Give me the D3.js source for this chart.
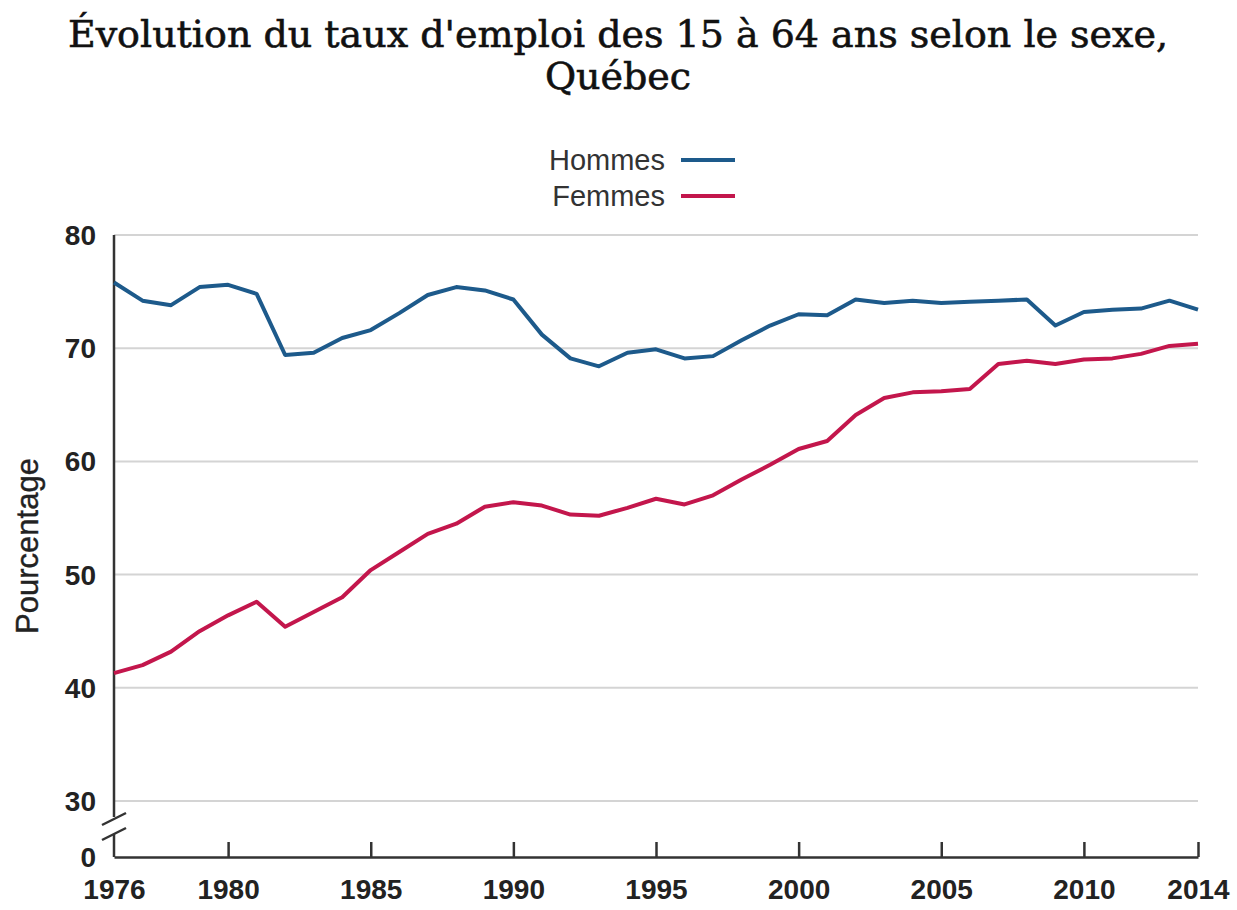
<!DOCTYPE html>
<html>
<head>
<meta charset="utf-8">
<script src="https://cdn.jsdelivr.net/npm/d3@7"></script>
<style>
  body { margin: 0; background: #fff; }
  svg { display: block; }
</style>
</head>
<body>
<svg width="1237" height="910"></svg>
<script>
const years = d3.range(1976, 2015);

const hommes = [
  75.8, 74.2, 73.8, 75.4, 75.6, 74.8, 69.4, 69.6, 70.9, 71.6,
  73.1, 74.7, 75.4, 75.1, 74.3, 71.2, 69.1, 68.4, 69.6, 69.9,
  69.1, 69.3, 70.7, 72.0, 73.0, 72.9, 74.3, 74.0, 74.2, 74.0,
  74.1, 74.2, 74.3, 72.0, 73.2, 73.4, 73.5, 74.2, 73.4
];

const femmes = [
  41.3, 42.0, 43.2, 45.0, 46.4, 47.6, 45.4, 46.7, 48.0, 50.4,
  52.0, 53.6, 54.5, 56.0, 56.4, 56.1, 55.3, 55.2, 55.9, 56.7,
  56.2, 57.0, 58.4, 59.7, 61.1, 61.8, 64.1, 65.6, 66.1, 66.2,
  66.4, 68.6, 68.9, 68.6, 69.0, 69.1, 69.5, 70.2, 70.4
];

const yTicks = [0, 30, 40, 50, 60, 70, 80];
const xTicks = [1976, 1980, 1985, 1990, 1995, 2000, 2005, 2010, 2014];

const series = [
  { name: 'Hommes', values: hommes, color: '#1d5a8b' },
  { name: 'Femmes', values: femmes, color: '#c3164c' }
];

const svg = d3.select('svg');
const left = 114, right = 1198;

const x = d3.scaleLinear().domain([1976, 2014]).range([left, right]);
// axis is broken between 0 and 30
const y = d3.scaleLinear().domain([0, 30, 80]).range([857, 801, 235]);

// title
const title = svg.append('text')
  .attr('x', 618)
  .attr('y', 47)
  .attr('text-anchor', 'middle')
  .attr('font-family', 'DejaVu Serif, serif')
  .attr('font-size', '38px')
  .attr('fill', '#111')
  .attr('stroke', '#111')
  .attr('stroke-width', 0.6);
title.append('tspan').attr('x', 618).text("Évolution du taux d'emploi des 15 à 64 ans selon le sexe,");
title.append('tspan').attr('x', 618).attr('dy', 42).text('Québec');

// gridlines
svg.append('g')
  .selectAll('line')
  .data(yTicks.filter((d) => d >= 30))
  .enter()
  .append('line')
  .attr('x1', left)
  .attr('x2', right)
  .attr('y1', (d) => y(d))
  .attr('y2', (d) => y(d))
  .attr('stroke', '#d4d4d4')
  .attr('stroke-width', 2);

// y axis labels
svg.append('g')
  .selectAll('text')
  .data(yTicks)
  .enter()
  .append('text')
  .attr('x', 96)
  .attr('y', (d) => y(d))
  .attr('dy', '0.36em')
  .attr('text-anchor', 'end')
  .attr('font-family', 'Liberation Sans, Arial, sans-serif')
  .attr('font-weight', 'bold')
  .attr('font-size', '28px')
  .attr('fill', '#222')
  .text((d) => d);

// y axis line with break
const axisColor = '#333';
svg.append('line')
  .attr('x1', left).attr('x2', left)
  .attr('y1', y(80)).attr('y2', 817)
  .attr('stroke', axisColor).attr('stroke-width', 2.5);
svg.append('line')
  .attr('x1', left).attr('x2', left)
  .attr('y1', 834).attr('y2', y(0))
  .attr('stroke', axisColor).attr('stroke-width', 2.5);
[0, 15].forEach((off) => {
  svg.append('line')
    .attr('x1', 102).attr('y1', 825 + off)
    .attr('x2', 126).attr('y2', 813 + off)
    .attr('stroke', axisColor).attr('stroke-width', 2.5);
});

// x axis
const xAxis = svg.append('g')
  .attr('transform', `translate(0,${y(0)})`)
  .call(d3.axisBottom(x).tickValues(xTicks).tickSize(-15).tickFormat((d) => d).tickSizeOuter(0));
xAxis.select('.domain').attr('stroke', axisColor).attr('stroke-width', 2.5);
xAxis.selectAll('.tick line')
  .attr('stroke', axisColor)
  .attr('stroke-width', 2.5)
  .filter((d) => d === 1976)
  .remove();
xAxis.selectAll('.tick text')
  .attr('y', 32)
  .attr('dy', '0.36em')
  .attr('font-family', 'Liberation Sans, Arial, sans-serif')
  .attr('font-weight', 'bold')
  .attr('font-size', '28px')
  .attr('fill', '#222');

// y axis title
svg.append('text')
  .attr('transform', 'translate(38,546) rotate(-90)')
  .attr('text-anchor', 'middle')
  .attr('font-family', 'Liberation Sans, Arial, sans-serif')
  .attr('font-size', '31px')
  .attr('fill', '#222')
  .attr('stroke', '#222')
  .attr('stroke-width', 0.4)
  .text('Pourcentage');

// lines
const line = d3.line()
  .x((d, i) => x(years[i]))
  .y((d) => y(d));

svg.append('g')
  .selectAll('path')
  .data(series)
  .enter()
  .append('path')
  .attr('d', (d) => line(d.values))
  .attr('fill', 'none')
  .attr('stroke', (d) => d.color)
  .attr('stroke-width', 4)
  .attr('stroke-linejoin', 'round');

// legend
const legend = svg.append('g')
  .selectAll('g')
  .data(series)
  .enter()
  .append('g')
  .attr('transform', (d, i) => `translate(0,${160 + i * 36})`);
legend.append('text')
  .attr('x', 665)
  .attr('dy', '0.35em')
  .attr('text-anchor', 'end')
  .attr('font-family', 'Liberation Sans, Arial, sans-serif')
  .attr('font-size', '29px')
  .attr('fill', '#333')
  .text((d) => d.name);
legend.append('line')
  .attr('x1', 681).attr('x2', 735)
  .attr('stroke', (d) => d.color)
  .attr('stroke-width', 4);
</script>
</body>
</html>
